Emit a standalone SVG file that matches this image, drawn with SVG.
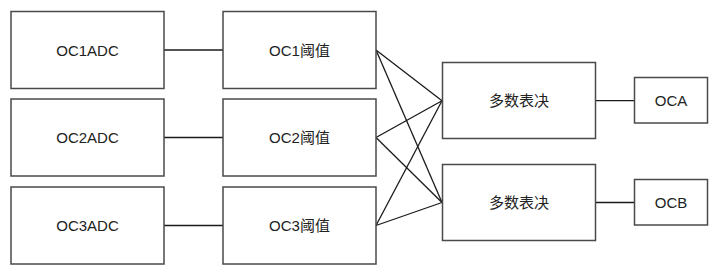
<svg xmlns="http://www.w3.org/2000/svg" width="715" height="273" viewBox="0 0 715 273">
<style>
.box{fill:#fff;stroke:#4a4a4a;stroke-width:1.5}
.lbl{font-family:"Liberation Sans","Noto Sans CJK SC",sans-serif;font-size:15px;fill:#222;text-anchor:middle;dominant-baseline:central}
.conn line{stroke:#1a1a1a;stroke-width:1.3}
</style>
<rect width="715" height="273" fill="#fff"/>
<g class="conn">
<line x1="164" y1="50" x2="223" y2="50"/>
<line x1="164" y1="137.5" x2="223" y2="137.5"/>
<line x1="164" y1="225.5" x2="223" y2="225.5"/>
<line x1="376" y1="50" x2="442" y2="100.7"/>
<line x1="376" y1="50" x2="442" y2="202.5"/>
<line x1="376" y1="137.5" x2="442" y2="100.7"/>
<line x1="376" y1="137.5" x2="442" y2="202.5"/>
<line x1="376" y1="225.5" x2="442" y2="100.7"/>
<line x1="376" y1="225.5" x2="442" y2="202.5"/>
<line x1="596" y1="100.7" x2="634" y2="100.7"/>
<line x1="596" y1="202.5" x2="634" y2="202.5"/>
</g>
<g id="oc1adc"><rect class="box" x="11" y="11.5" width="153" height="77"/><text class="lbl" x="87.5" y="50">OC1ADC</text></g>
<g id="oc2adc"><rect class="box" x="11" y="99" width="153" height="77"/><text class="lbl" x="87.5" y="137.5">OC2ADC</text></g>
<g id="oc3adc"><rect class="box" x="11" y="187" width="153" height="77"/><text class="lbl" x="87.5" y="225.5">OC3ADC</text></g>
<g id="oc1th"><rect class="box" x="223" y="11.5" width="153" height="77"/><text class="lbl" x="299.5" y="50">OC1阈值</text></g>
<g id="oc2th"><rect class="box" x="223" y="99" width="153" height="77"/><text class="lbl" x="299.5" y="137.5">OC2阈值</text></g>
<g id="oc3th"><rect class="box" x="223" y="187" width="153" height="77"/><text class="lbl" x="299.5" y="225.5">OC3阈值</text></g>
<g id="vote1"><rect class="box" x="442.5" y="62.5" width="153" height="76"/><text class="lbl" x="519" y="100.7">多数表决</text></g>
<g id="vote2"><rect class="box" x="442.5" y="164.5" width="153" height="76"/><text class="lbl" x="519" y="202.5">多数表决</text></g>
<g id="oca"><rect class="box" x="634.5" y="77.5" width="73" height="45.5"/><text class="lbl" x="671" y="100.7">OCA</text></g>
<g id="ocb"><rect class="box" x="634.5" y="179.5" width="73" height="45.5"/><text class="lbl" x="671" y="202.5">OCB</text></g>
</svg>
